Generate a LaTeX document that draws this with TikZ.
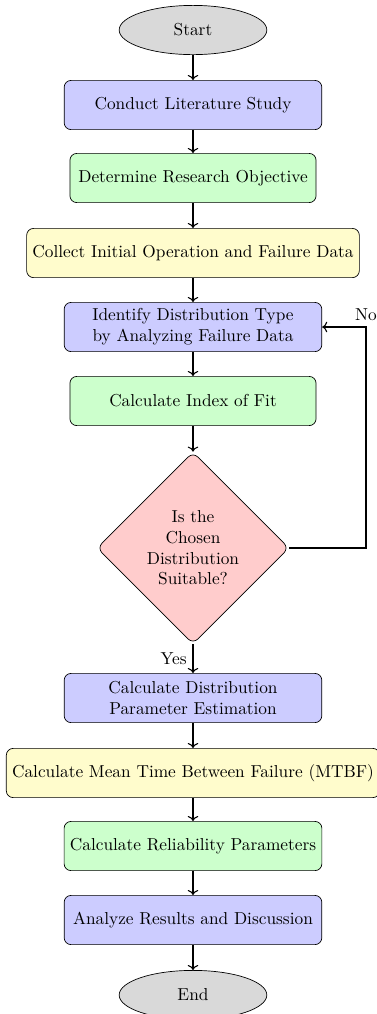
\documentclass[tikz,border=0pt]{standalone}
\usetikzlibrary{shapes.geometric,arrows.meta}
\begin{document}
\begin{tikzpicture}[x=0.578pt,y=-0.578pt,
  base/.style={draw=black,rounded corners,minimum height=1cm,align=center,font=\normalsize},
  startstop/.style={ellipse,draw=black,fill=gray!30,minimum width=3cm,minimum height=1cm},
  bluebox/.style={base,fill=blue!20,text width=5cm},
  greenbox/.style={base,fill=green!20,minimum width=5cm},
  yellowbox/.style={base,fill=yellow!20},
  decisionbox/.style={diamond,draw=black,fill=red!20,rounded corners,aspect=1,text width=2cm,align=center,inner sep=0pt,minimum width=111pt,minimum height=111pt},
  arrow/.style={semithick,->}]
\useasboundingbox (0,0) rectangle (376,1014);
\node[startstop] (start) at (193,30) {Start};
\node[bluebox] (conduct) at (193,105) {Conduct Literature Study};
\node[greenbox] (determine) at (193,178) {Determine Research Objective};
\node[yellowbox] (collect) at (193,253) {Collect Initial Operation and Failure Data};
\node[bluebox] (identify) at (193,327) {Identify Distribution Type\\by Analyzing Failure Data};
\node[greenbox] (index) at (193,401) {Calculate Index of Fit};
\node[decisionbox] (decision) at (193,548) {Is the Chosen Distribution Suitable?};
\node[bluebox] (calcdist) at (193,698) {Calculate Distribution\\Parameter Estimation};
\node[yellowbox] (mtbf) at (193,773) {Calculate Mean Time Between Failure (MTBF)};
\node[greenbox] (reliab) at (193,846) {Calculate Reliability Parameters};
\node[bluebox] (analyze) at (193,920) {Analyze Results and Discussion};
\node[startstop] (end) at (193,995) {End};
\coordinate (fb) at (366,327);
\draw[arrow] (start) -- (conduct);
\draw[arrow] (conduct) -- (determine);
\draw[arrow] (determine) -- (collect);
\draw[arrow] (collect) -- (identify);
\draw[arrow] (identify) -- (index);
\draw[arrow] (index) -- (decision);
\draw[arrow] (decision) -- node[left] {Yes} (calcdist);
\draw[arrow] (decision.east) -| (fb) -- (identify.east);
\node[above] (nolabel) at (fb) {No};
\draw[arrow] (calcdist) -- (mtbf);
\draw[arrow] (mtbf) -- (reliab);
\draw[arrow] (reliab) -- (analyze);
\draw[arrow] (analyze) -- (end);
\end{tikzpicture}
\end{document}
